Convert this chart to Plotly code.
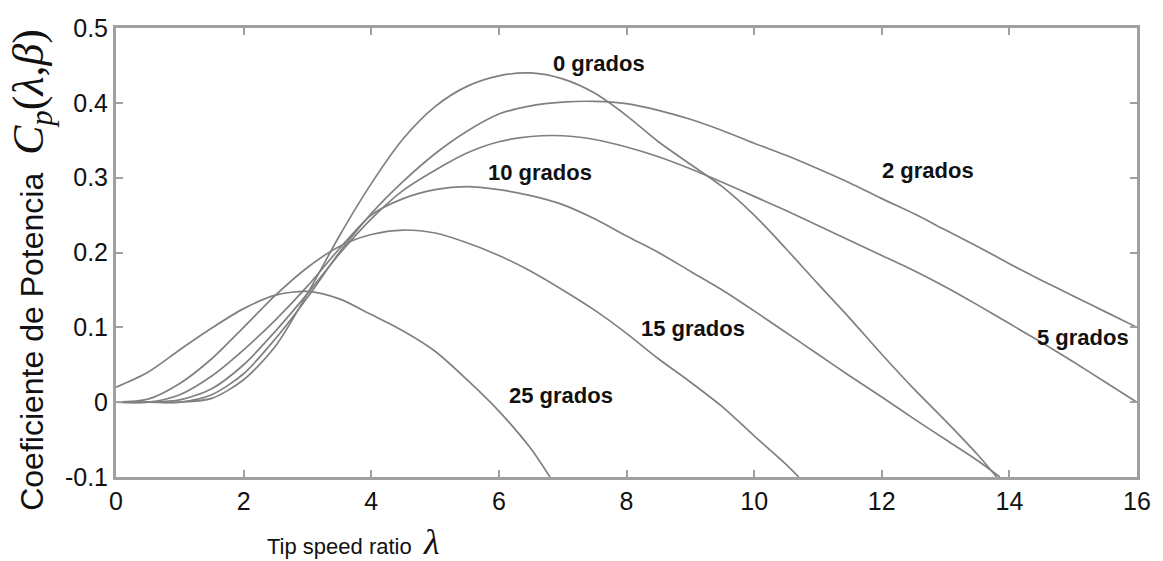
import plotly.graph_objects as go

# Tip speed ratio (lambda) sample points per curve and Cp values
lam_0 = [0, 0.5, 1, 1.5, 2, 2.5, 3, 3.5, 4, 4.5, 5, 5.5, 6, 6.5, 7, 7.5, 8, 8.5, 9, 9.5, 10, 10.5, 11, 11.5, 12, 12.5, 13, 13.5, 13.8]
cp_0 = [0, 0, 0, 0.005, 0.03, 0.075, 0.145, 0.222, 0.292, 0.352, 0.395, 0.422, 0.436, 0.44, 0.432, 0.413, 0.383, 0.348, 0.318, 0.288, 0.25, 0.205, 0.158, 0.112, 0.064, 0.018, -0.025, -0.07, -0.1]

lam_2 = [0, 0.5, 1, 1.5, 2, 2.5, 3, 3.5, 4, 4.5, 5, 5.5, 6, 6.5, 7, 7.5, 8, 8.5, 9, 9.5, 10, 10.5, 11, 11.5, 12, 12.5, 13, 13.5, 14, 14.5, 15, 15.5, 16]
cp_2 = [0, 0, 0, 0.01, 0.038, 0.085, 0.14, 0.2, 0.252, 0.295, 0.332, 0.362, 0.385, 0.396, 0.401, 0.402, 0.399, 0.39, 0.378, 0.363, 0.346, 0.33, 0.312, 0.293, 0.272, 0.252, 0.23, 0.208, 0.185, 0.163, 0.142, 0.121, 0.1]

lam_5 = [0, 0.5, 1, 1.5, 2, 2.5, 3, 3.5, 4, 4.5, 5, 5.5, 6, 6.5, 7, 7.5, 8, 8.5, 9, 9.5, 10, 10.5, 11, 11.5, 12, 12.5, 13, 13.5, 14, 14.5, 15, 15.5, 16]
cp_5 = [0, 0, 0.003, 0.018, 0.05, 0.095, 0.145, 0.198, 0.245, 0.283, 0.31, 0.333, 0.348, 0.355, 0.356, 0.351, 0.341, 0.328, 0.312, 0.294, 0.275, 0.256, 0.236, 0.216, 0.196, 0.176, 0.154, 0.13, 0.105, 0.08, 0.054, 0.027, 0.0]

lam_10 = [0, 0.5, 1, 1.5, 2, 2.5, 3, 3.5, 4, 4.5, 5, 5.5, 6, 6.5, 7, 7.5, 8, 8.5, 9, 9.5, 10, 10.5, 11, 11.5, 12, 12.5, 13, 13.5, 13.85]
cp_10 = [0, 0, 0.01, 0.035, 0.07, 0.11, 0.155, 0.205, 0.25, 0.272, 0.284, 0.288, 0.284, 0.276, 0.264, 0.245, 0.222, 0.2, 0.175, 0.15, 0.122, 0.093, 0.064, 0.035, 0.007, -0.022, -0.05, -0.078, -0.1]

lam_15 = [0, 0.5, 1, 1.5, 2, 2.5, 3, 3.5, 4, 4.5, 5, 5.5, 6, 6.5, 7, 7.5, 8, 8.5, 9, 9.5, 10, 10.5, 10.7]
cp_15 = [0, 0.004, 0.025, 0.058, 0.1, 0.143, 0.18, 0.208, 0.224, 0.23, 0.226, 0.213, 0.196, 0.175, 0.15, 0.123, 0.092, 0.058, 0.027, -0.006, -0.045, -0.083, -0.1]

lam_25 = [0, 0.5, 1, 1.5, 2, 2.5, 3, 3.5, 4, 4.5, 5, 5.5, 6, 6.5, 6.8]
cp_25 = [0.02, 0.04, 0.07, 0.099, 0.125, 0.143, 0.148, 0.138, 0.117, 0.095, 0.068, 0.03, -0.012, -0.062, -0.1]

series = [(lam_0, cp_0), (lam_2, cp_2), (lam_5, cp_5), (lam_10, cp_10), (lam_15, cp_15), (lam_25, cp_25)]

labels = ["0 grados", "2 grados", "5 grados", "10 grados", "15 grados", "25 grados"]
label_x = [7.57, 12.72, 15.15, 6.65, 9.04, 6.97]
label_y = [0.453, 0.31, 0.087, 0.307, 0.099, 0.009]

x_ticks = [0, 2, 4, 6, 8, 10, 12, 14, 16]
y_ticks = [-0.1, 0, 0.1, 0.2, 0.3, 0.4, 0.5]
y_ticktext = ["-0.1", "0", "0.1", "0.2", "0.3", "0.4", "0.5"]

fig = go.Figure()
for lx, ly in series:
    fig.add_trace(go.Scatter(x=lx, y=ly, mode="lines",
                             line=dict(color="#808080", width=1.7, shape="spline", smoothing=0.8),
                             showlegend=False, hoverinfo="skip"))

for t, x, y in zip(labels, label_x, label_y):
    fig.add_annotation(x=x, y=y, text="<b>" + t + "</b>", showarrow=False,
                       font=dict(family="Liberation Sans, Arial", size=22, color="#111111"))

fig.add_annotation(xref="paper", yref="paper", x=-0.083, y=0.462,
                   text="Coeficiente de Potencia  <span style='font-family:Liberation Serif;font-size:44px'><i>C<sub>p</sub></i>(<i>λ</i>,<i>β</i>)</span>",
                   textangle=-90, showarrow=False, xanchor="center", yanchor="middle",
                   font=dict(family="Liberation Sans, Arial", size=32, color="#111111"))
fig.add_annotation(xref="paper", yref="paper", x=0.233, y=-0.145,
                   text="Tip speed ratio  <span style='font-family:Liberation Serif;font-size:36px'><i>λ</i></span>",
                   showarrow=False, xanchor="center", yanchor="middle",
                   font=dict(family="Liberation Sans, Arial", size=22, color="#111111"))

axis_common = dict(showgrid=False, zeroline=False, showline=True, linecolor="#a0a0a0", linewidth=3,
                   mirror="ticks", ticks="inside", ticklen=7, tickwidth=2, tickcolor="#a0a0a0",
                   tickfont=dict(family="Liberation Sans, Arial", size=25, color="#111111"))
fig.update_xaxes(range=[0, 16], tickvals=x_ticks, **axis_common)
fig.update_yaxes(range=[-0.1, 0.5], tickvals=y_ticks, ticktext=y_ticktext, **axis_common)

fig.update_layout(width=1163, height=561, margin=dict(l=116, r=15, t=28, b=84),
                  plot_bgcolor="white", paper_bgcolor="white")

fig.write_html("out.html")
